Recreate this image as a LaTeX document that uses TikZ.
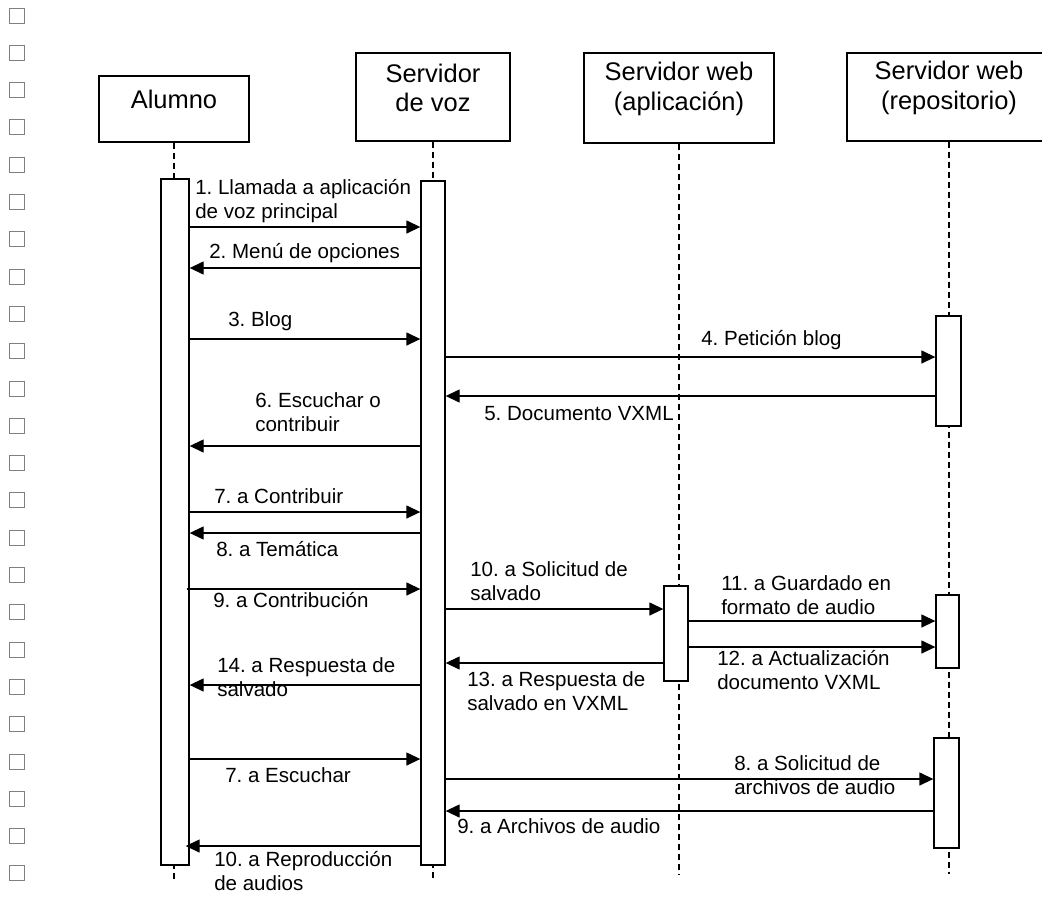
\documentclass[tikz,border=0pt]{standalone}
\usepackage{fontspec}
\setmainfont{Liberation Sans}
\usetikzlibrary{arrows.meta,fit}
\frenchspacing

\begin{document}
\begin{tikzpicture}[x=0.75pt,y=-0.75pt,
		actor/.style={draw,line width=1pt,inner sep=0pt,align=center,font=\fontsize{19.1}{22}\selectfont},
		bar/.style={draw,fill=white,line width=1pt,inner sep=0pt},
		life/.style={line width=1pt,dash pattern=on 4.5pt off 3pt},
		msg/.style={line width=1pt,-{Triangle[length=10.5pt,width=9.75pt]}},
		lbl/.style={inner sep=0pt,anchor=north west,align=left,font=\fontsize{15.4}{17.6}\selectfont,execute at begin node=\strut},
		tick/.style={draw={rgb,255:red,128;green,128;blue,128},line width=0.75pt}]
		\useasboundingbox (0,0) rectangle (1042,897);
		\clip (0,0) rectangle (1042,897);
		\foreach \i in {0,...,23}
			\draw [tick] (9,8+37.3*\i) rectangle ++(15,15);
		\node [actor,fit={(99,76) (249,142)}] (alumno) {Alumno};
		\node [actor,fit={(356,53) (510,141)}] (voz) {Servidor\\de voz};
		\node [actor,fit={(584,53) (774,143)}] (app) {Servidor web\\(aplicación)};
		\node [actor,fit={(847,53) (1051,141)}] (repo) {Servidor web\\(repositorio)};
		\coordinate (endA) at (0,880);
		\coordinate (endB) at (0,874);
		\draw [life] (alumno.south) to (alumno.south |- endA);
		\draw [life] (voz.south) to (voz.south |- endA);
		\draw [life] (app.south) to (app.south |- endB);
		\draw [life] (repo.south) to (repo.south |- endB);
		\node [bar,fit={(161,179) (189,865)}] (aBar) {};
		\node [bar,fit={(421,181) (445,865)}] (vBar) {};
		\node [bar,fit={(664,586) (688,681)}] (pBar) {};
		\node [bar,fit={(936,316) (961,426)}] (rBarA) {};
		\node [bar,fit={(936,595) (959,668)}] (rBarB) {};
		\node [bar,fit={(934,738) (959,848)}] (rBarC) {};
		\coordinate (m1) at (0,227);
		\coordinate (m2) at (0,268);
		\coordinate (m3) at (0,339);
		\coordinate (m4) at (0,357);
		\coordinate (m5) at (0,396);
		\coordinate (m6) at (0,446);
		\coordinate (m7) at (0,512);
		\coordinate (m8) at (0,533);
		\coordinate (m9) at (0,589);
		\coordinate (m10) at (0,609);
		\coordinate (m11) at (0,621);
		\coordinate (m12) at (0,647);
		\coordinate (m13) at (0,663);
		\coordinate (m14) at (0,685);
		\coordinate (m15) at (0,759);
		\coordinate (m16) at (0,779);
		\coordinate (m17) at (0,811);
		\coordinate (m18) at (0,846);
		\draw [msg] (aBar.east |- m1) to (vBar.west |- m1);
		\draw [msg] (vBar.west |- m2) to (aBar.east |- m2);
		\draw [msg] (aBar.east |- m3) to (vBar.west |- m3);
		\draw [msg] (vBar.east |- m4) to (rBarA.west |- m4);
		\draw [msg] (rBarA.west |- m5) to (vBar.east |- m5);
		\draw [msg] (vBar.west |- m6) to (aBar.east |- m6);
		\draw [msg] (aBar.east |- m7) to (vBar.west |- m7);
		\draw [msg] (vBar.west |- m8) to (aBar.east |- m8);
		\draw [msg] ([xshift=-2.25pt]aBar.east |- m9) to (vBar.west |- m9);
		\draw [msg] (vBar.east |- m10) to (pBar.west |- m10);
		\draw [msg] (pBar.east |- m11) to (rBarB.west |- m11);
		\draw [msg] (pBar.east |- m12) to (rBarB.west |- m12);
		\draw [msg] (pBar.west |- m13) to (vBar.east |- m13);
		\draw [msg] (vBar.west |- m14) to (aBar.east |- m14);
		\draw [msg] (aBar.east |- m15) to (vBar.west |- m15);
		\draw [msg] (vBar.east |- m16) to (rBarC.west |- m16);
		\draw [msg] (rBarC.west |- m17) to (vBar.east |- m17);
		\draw [msg] (vBar.west |- m18) to ([xshift=-3pt]aBar.east |- m18);
		\node [lbl] (l1) at (195,179.5) {1. Llamada a aplicación\\de voz principal};
		\node [lbl] (l2) at (209,241.5) {2. Menú de opciones};
		\node [lbl] (l3) at (228,309.5) {3. Blog};
		\node [lbl] (l4) at (701,328.5) {4. Petición blog};
		\node [lbl] (l5) at (484,403.5) {5. Documento VXML};
		\node [lbl] (l6) at (255,392.5) {6. Escuchar o\\contribuir};
		\node [lbl] (l7) at (214,486.5) {7. a Contribuir};
		\node [lbl] (l8) at (216,539.5) {8. a Temática};
		\node [lbl] (l9) at (213,590.5) {9. a Contribución};
		\node [lbl] (l10) at (470,561.5) {10. a Solicitud de\\salvado};
		\node [lbl] (l11) at (721,575.5) {11. a Guardado en\\formato de audio};
		\node [lbl] (l12) at (717,650.5) {12. a Actualización\\documento VXML};
		\node [lbl] (l13) at (467,671.5) {13. a Respuesta de\\salvado en VXML};
		\node [lbl] (l14) at (217,657.5) {14. a Respuesta de\\salvado};
		\node [lbl] (l15) at (225,765.5) {7. a Escuchar};
		\node [lbl] (l16) at (734,755.5) {8. a Solicitud de\\archivos de audio};
		\node [lbl] (l17) at (457,816.5) {9. a Archivos de audio};
		\node [lbl] (l18) at (214,851.5) {10. a Reproducción\\de audios};
	\end{tikzpicture}
\end{document}
